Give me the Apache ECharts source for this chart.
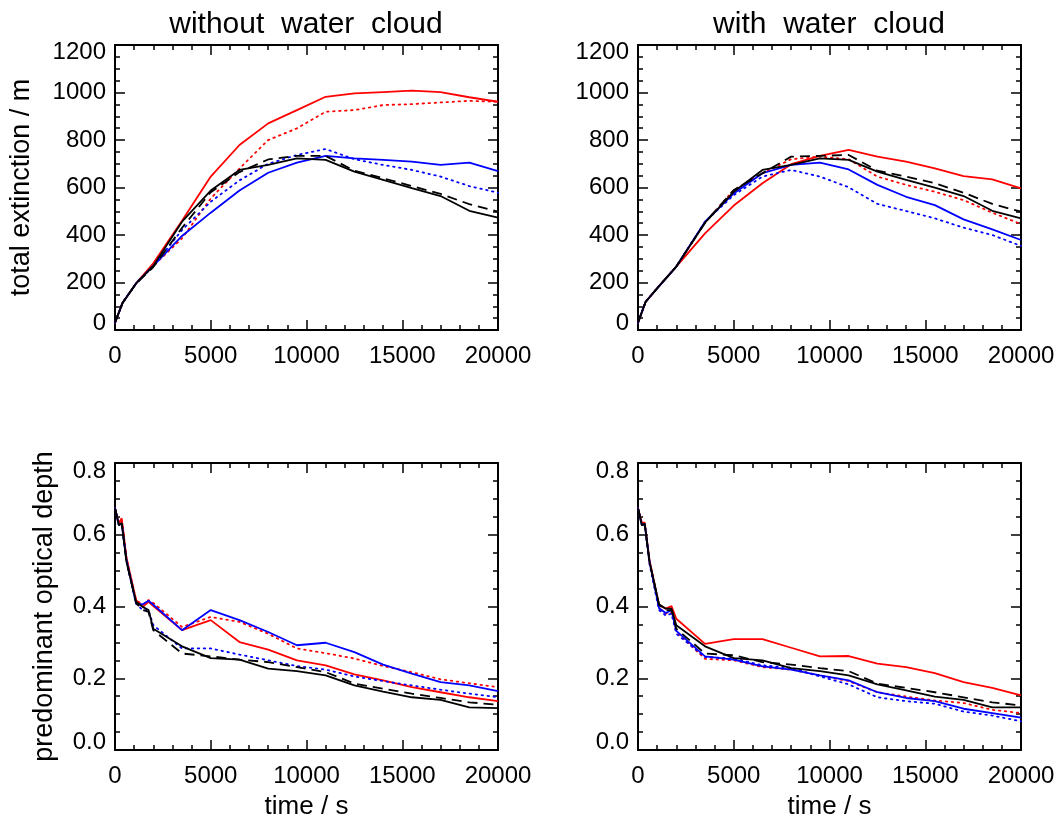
<!DOCTYPE html>
<html><head><meta charset="utf-8">
<script src="https://cdn.jsdelivr.net/npm/echarts@6/dist/echarts.min.js"></script>
<style>html,body{margin:0;padding:0;background:#fff}#c{width:1061px;height:816px}</style>
</head><body><div id="c"></div>
<script>
// ---- data ----
const tTop = [0, 400, 1100, 2000, 3500, 5000, 6500, 8000, 9500, 11000, 12500, 14000, 15500, 17000, 18500, 20000];
const tBot = [0, 200, 350, 600, 1100, 1450, 1750, 2000, 3500, 5000, 6500, 8000, 9500, 11000, 12500, 14000, 15500, 17000, 18500, 20000];

const panelTitles = ['without  water  cloud', 'with  water  cloud'];
const yNameTop = 'total extinction / m';
const yNameBot = 'predominant optical depth';
const xName = 'time / s';
const xTicks = [0, 5000, 10000, 15000, 20000];
const yTicksTop = [0, 200, 400, 600, 800, 1000, 1200];
const yTicksBot = [0.0, 0.2, 0.4, 0.6, 0.8];

// total extinction, without water cloud
const redSolidTL   = [31,115,196,281,460,646,779,870,926,982,996,1002,1008,1002,980,961];
const redDotTL     = [31,115,196,270,386,554,680,800,849,919,926,947,951,958,965,961];
const blueSolidTL  = [31,115,196,270,396,494,587,662,705,733,723,716,709,695,705,669];
const blueDotTL    = [31,115,196,270,421,540,630,700,737,762,719,695,674,646,606,578];
const blackSolidTL = [31,115,196,270,456,587,674,695,723,716,667,632,597,564,502,473];
const blackDashTL  = [31,115,196,265,430,580,665,718,733,733,671,639,606,573,530,498];

// total extinction, with water cloud
const redSolidTR   = [31,119,185,267,407,524,618,698,733,758,730,709,681,648,634,596];
const redDotTR     = [31,119,185,267,452,589,660,719,730,719,646,611,582,547,494,446];
const blueSolidTR  = [31,119,185,267,456,575,660,695,705,676,611,561,526,466,424,379];
const blueDotTR    = [31,119,185,267,456,568,646,674,646,601,531,501,470,431,400,354];
const blackSolidTR = [31,119,185,267,452,582,674,695,723,716,667,632,599,564,502,470];
const blackDashTR  = [31,119,185,267,452,589,660,730,733,737,671,646,618,578,531,498];

// predominant optical depth, without water cloud
const redSolidBL   = [.674,.632,.646,.535,.418,.399,.413,.401,.334,.362,.301,.280,.250,.236,.211,.194,.175,.161,.147,.136];
const redDotBL     = [.674,.630,.645,.535,.418,.405,.418,.410,.343,.371,.357,.324,.283,.270,.255,.234,.217,.197,.186,.175];
const blueSolidBL  = [.674,.627,.632,.530,.408,.406,.416,.405,.334,.390,.362,.329,.292,.299,.273,.238,.213,.189,.180,.164];
const blueDotBL    = [.674,.627,.632,.525,.408,.390,.390,.348,.283,.283,.266,.250,.234,.224,.205,.192,.180,.168,.157,.147];
const blackSolidBL = [.674,.627,.632,.525,.413,.399,.390,.338,.289,.256,.252,.227,.220,.208,.180,.163,.147,.140,.119,.117];
const blackDashBL  = [.674,.627,.632,.525,.410,.390,.385,.334,.269,.261,.252,.245,.231,.217,.185,.171,.157,.145,.133,.126];

// predominant optical depth, with water cloud
const redSolidBR   = [.674,.634,.634,.530,.404,.394,.401,.366,.296,.309,.309,.285,.261,.262,.241,.231,.214,.189,.173,.152];
const redDotBR     = [.674,.627,.630,.520,.395,.380,.385,.330,.254,.250,.231,.224,.208,.192,.161,.149,.138,.131,.112,.103];
const blueSolidBR  = [.674,.627,.630,.525,.395,.382,.390,.332,.261,.252,.233,.224,.208,.194,.161,.145,.136,.115,.103,.090];
const blueDotBR    = [.674,.627,.630,.520,.390,.375,.380,.324,.259,.255,.236,.229,.205,.183,.147,.136,.129,.107,.096,.080];
const blackSolidBR = [.674,.627,.630,.525,.406,.394,.394,.348,.289,.256,.250,.228,.220,.208,.183,.166,.149,.140,.119,.119];
const blackDashBR  = [.674,.627,.630,.525,.404,.390,.390,.338,.269,.264,.245,.238,.228,.220,.185,.173,.161,.147,.133,.124];

// ---- chart ----
const FONT = 'Liberation Sans';
const grids = [
  {left:115, top:45, width:383, height:285, outerBoundsMode:'none', containLabel:false},
  {left:638, top:45, width:383, height:285, outerBoundsMode:'none', containLabel:false},
  {left:115, top:463, width:383, height:287, outerBoundsMode:'none', containLabel:false},
  {left:638, top:463, width:383, height:287, outerBoundsMode:'none', containLabel:false}
];
const axLine = {show:true, onZero:false, lineStyle:{color:'#000', width:2}};
const tickStyle = {show:true, inside:true, length:10, lineStyle:{color:'#000', width:1.5}};
const xAxes = [], yAxes = [];
grids.forEach((g, i) => {
  const isBot = i >= 2;
  xAxes.push({
    type:'value', gridIndex:i, position:'bottom', min:xTicks[0], max:xTicks[xTicks.length-1], interval:5000,
    axisLine:axLine, splitLine:{show:false},
    axisTick:tickStyle,
    minorTick:{show:true, splitNumber:5, length:5, lineStyle:{color:'#000', width:1.5}},
    axisLabel:{color:'#000', fontSize:24, fontFamily:FONT, margin:14, formatter: v => String(v)},
    name: isBot ? xName : '', nameLocation:'middle', nameGap:44,
    nameTextStyle:{color:'#000', fontSize:26, fontFamily:FONT}
  });
  xAxes.push({
    type:'value', gridIndex:i, position:'top', min:xTicks[0], max:xTicks[xTicks.length-1], interval:5000,
    axisLine:axLine, splitLine:{show:false},
    axisTick:tickStyle,
    minorTick:{show:true, splitNumber:5, length:5, lineStyle:{color:'#000', width:1.5}},
    axisLabel:{show:false}
  });
  const yt = isBot ? yTicksBot : yTicksTop;
  const yCommon = {
    type:'value', gridIndex:i, min:yt[0], max:yt[yt.length-1], interval:yt[1]-yt[0],
    axisLine:axLine, splitLine:{show:false},
    axisTick:tickStyle,
    minorTick:{show:true, splitNumber:4, length:5, lineStyle:{color:'#000', width:1.5}}
  };
  yAxes.push(Object.assign({}, yCommon, {
    position:'left',
    axisLabel:{color:'#000', fontSize:24, fontFamily:FONT, margin:9, lineHeight: isBot ? 16 : 14,
      verticalAlignMinLabel:'bottom', verticalAlignMaxLabel:'top',
      formatter: v => isBot ? v.toFixed(1) : String(Math.round(v))},
    name: (i === 0) ? yNameTop : (i === 2 ? yNameBot : ''),
    nameLocation:'middle', nameGap: (i === 0) ? 80 : 57,
    nameTextStyle:{color:'#000', fontSize:27, fontFamily:FONT}
  }));
  yAxes.push(Object.assign({}, yCommon, {position:'right', axisLabel:{show:false}}));
});

const RED = '#ff0000', BLUE = '#0000ff', BLACK = '#000000';
const DOT = [1.5, 4.5], DASH = [10, 6];
const panels = [
  {t:tTop, s:[[redSolidTL,RED,'solid'],[redDotTL,RED,DOT],[blueSolidTL,BLUE,'solid'],[blueDotTL,BLUE,DOT],[blackSolidTL,BLACK,'solid'],[blackDashTL,BLACK,DASH]]},
  {t:tTop, s:[[redSolidTR,RED,'solid'],[redDotTR,RED,DOT],[blueSolidTR,BLUE,'solid'],[blueDotTR,BLUE,DOT],[blackSolidTR,BLACK,'solid'],[blackDashTR,BLACK,DASH]]},
  {t:tBot, s:[[redSolidBL,RED,'solid'],[redDotBL,RED,DOT],[blueSolidBL,BLUE,'solid'],[blueDotBL,BLUE,DOT],[blackSolidBL,BLACK,'solid'],[blackDashBL,BLACK,DASH]]},
  {t:tBot, s:[[redSolidBR,RED,'solid'],[redDotBR,RED,DOT],[blueSolidBR,BLUE,'solid'],[blueDotBR,BLUE,DOT],[blackSolidBR,BLACK,'solid'],[blackDashBR,BLACK,DASH]]}
];
const series = [];
panels.forEach((p, i) => {
  p.s.forEach(([vals, color, type]) => {
    series.push({
      type:'line', xAxisIndex:2*i, yAxisIndex:2*i, showSymbol:false, silent:true,
      data: p.t.map((t, k) => [t, vals[k]]),
      lineStyle:{color:color, width:1.8, type:type, cap:type === DOT ? 'round' : 'butt'},
      itemStyle:{color:color}
    });
  });
});

const chart = echarts.init(document.getElementById('c'), null, {renderer:'canvas'});
chart.setOption({
  animation:false,
  backgroundColor:'#fff',
  title:[
    {text:panelTitles[0], left:306, top:10, textAlign:'center', padding:0,
     textStyle:{color:'#000', fontSize:30, fontWeight:'normal', fontFamily:FONT}},
    {text:panelTitles[1], left:829, top:10, textAlign:'center', padding:0,
     textStyle:{color:'#000', fontSize:30, fontWeight:'normal', fontFamily:FONT}}
  ],
  grid:grids,
  xAxis:xAxes,
  yAxis:yAxes,
  series:series
});
</script></body></html>
